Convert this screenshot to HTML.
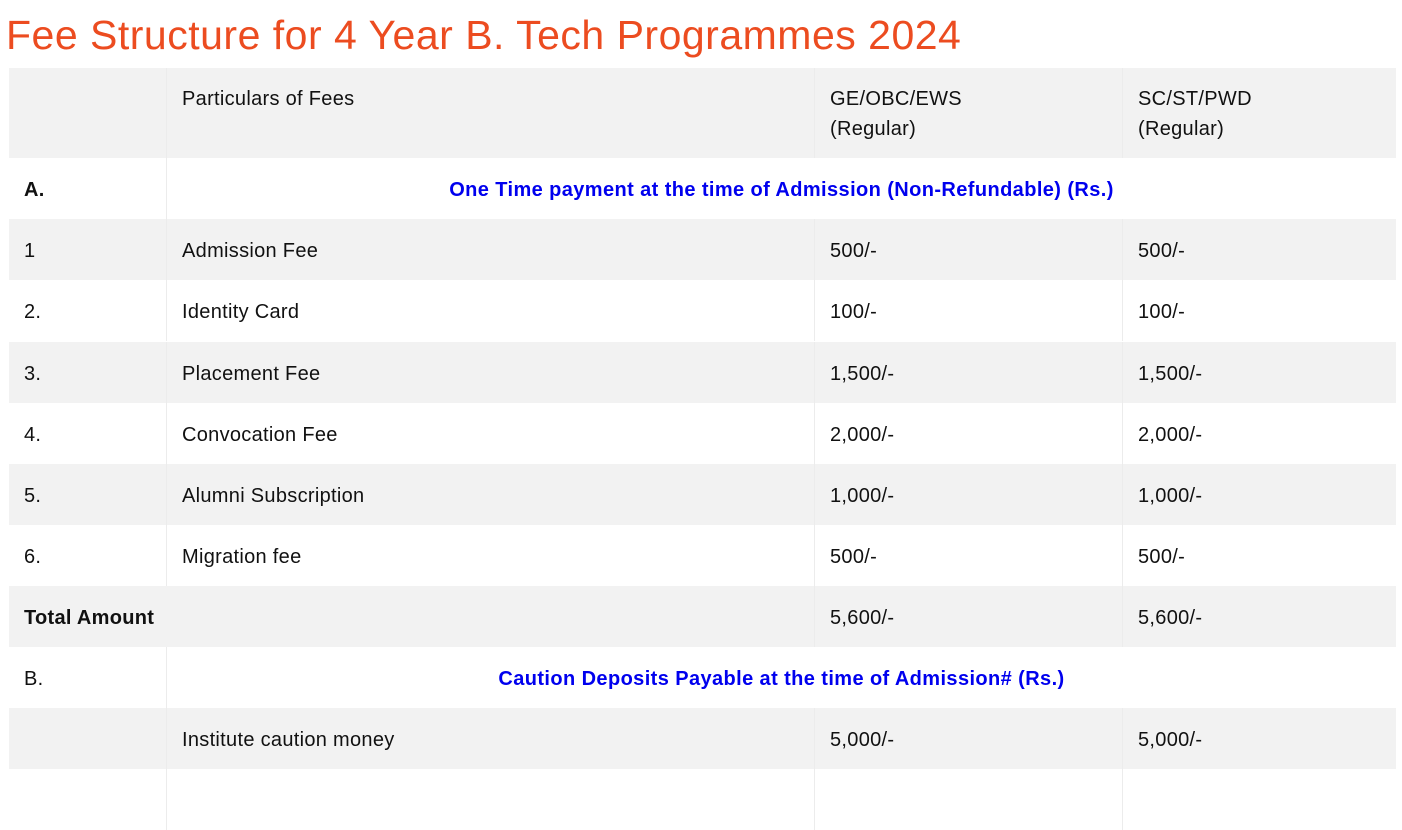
<!DOCTYPE html>
<html><head><meta charset="utf-8"><style>
body{margin:0;width:1402px;height:780px;overflow:hidden;background:#fff;font-family:"Liberation Sans",sans-serif;color:#111;position:relative}
h1{position:absolute;left:6px;top:10px;margin:0;font-weight:normal;font-size:41px;line-height:50px;color:#ec4c20;letter-spacing:0.5px}
.r{position:absolute;left:9px;width:1387px;height:61px}
.g{background:#f2f2f2}
.c{position:absolute;top:0;height:100%;border-left:1px solid #ececec;box-sizing:border-box;display:flex;align-items:center;padding-left:15px;padding-top:4px;font-size:20px;letter-spacing:0.3px}
.c1{left:0;width:157px;border-left:none}
.c2{left:157px;width:648px}
.c3{left:805px;width:308px}
.c4{left:1113px;width:274px}
.b{font-weight:bold}
.span{left:157px;width:1230px;justify-content:center;padding-left:0;color:#0000ee;font-weight:bold;letter-spacing:0.4px}
.h .c{align-items:flex-start;padding-top:16px;line-height:30px}
</style></head><body>
<h1>Fee Structure for 4 Year B. Tech Programmes 2024</h1>
<div class="r g h" style="top:68px;height:90px"><div class="c c1"></div><div class="c c2">Particulars of Fees</div><div class="c c3">GE/OBC/EWS<br>(Regular)</div><div class="c c4">SC/ST/PWD<br>(Regular)</div></div>
<div class="r" style="top:158px"><div class="c c1 b">A.</div><div class="c span">One Time payment at the time of Admission (Non-Refundable) (Rs.)</div></div>
<div class="r g" style="top:219px"><div class="c c1">1</div><div class="c c2">Admission Fee</div><div class="c c3">500/-</div><div class="c c4">500/-</div></div>
<div class="r" style="top:280px"><div class="c c1">2.</div><div class="c c2">Identity Card</div><div class="c c3">100/-</div><div class="c c4">100/-</div></div>
<div class="r g" style="top:342px"><div class="c c1">3.</div><div class="c c2">Placement Fee</div><div class="c c3">1,500/-</div><div class="c c4">1,500/-</div></div>
<div class="r" style="top:403px"><div class="c c1">4.</div><div class="c c2">Convocation Fee</div><div class="c c3">2,000/-</div><div class="c c4">2,000/-</div></div>
<div class="r g" style="top:464px"><div class="c c1">5.</div><div class="c c2">Alumni Subscription</div><div class="c c3">1,000/-</div><div class="c c4">1,000/-</div></div>
<div class="r" style="top:525px"><div class="c c1">6.</div><div class="c c2">Migration fee</div><div class="c c3">500/-</div><div class="c c4">500/-</div></div>
<div class="r g" style="top:586px"><div class="c b" style="left:0;width:805px;border-left:none">Total Amount</div><div class="c c3">5,600/-</div><div class="c c4">5,600/-</div></div>
<div class="r" style="top:647px"><div class="c c1">B.</div><div class="c span">Caution Deposits Payable at the time of Admission# (Rs.)</div></div>
<div class="r g" style="top:708px"><div class="c c1"></div><div class="c c2">Institute caution money</div><div class="c c3">5,000/-</div><div class="c c4">5,000/-</div></div>
<div class="r" style="top:769px"><div class="c c1"></div><div class="c c2"></div><div class="c c3"></div><div class="c c4"></div></div>
</body></html>
